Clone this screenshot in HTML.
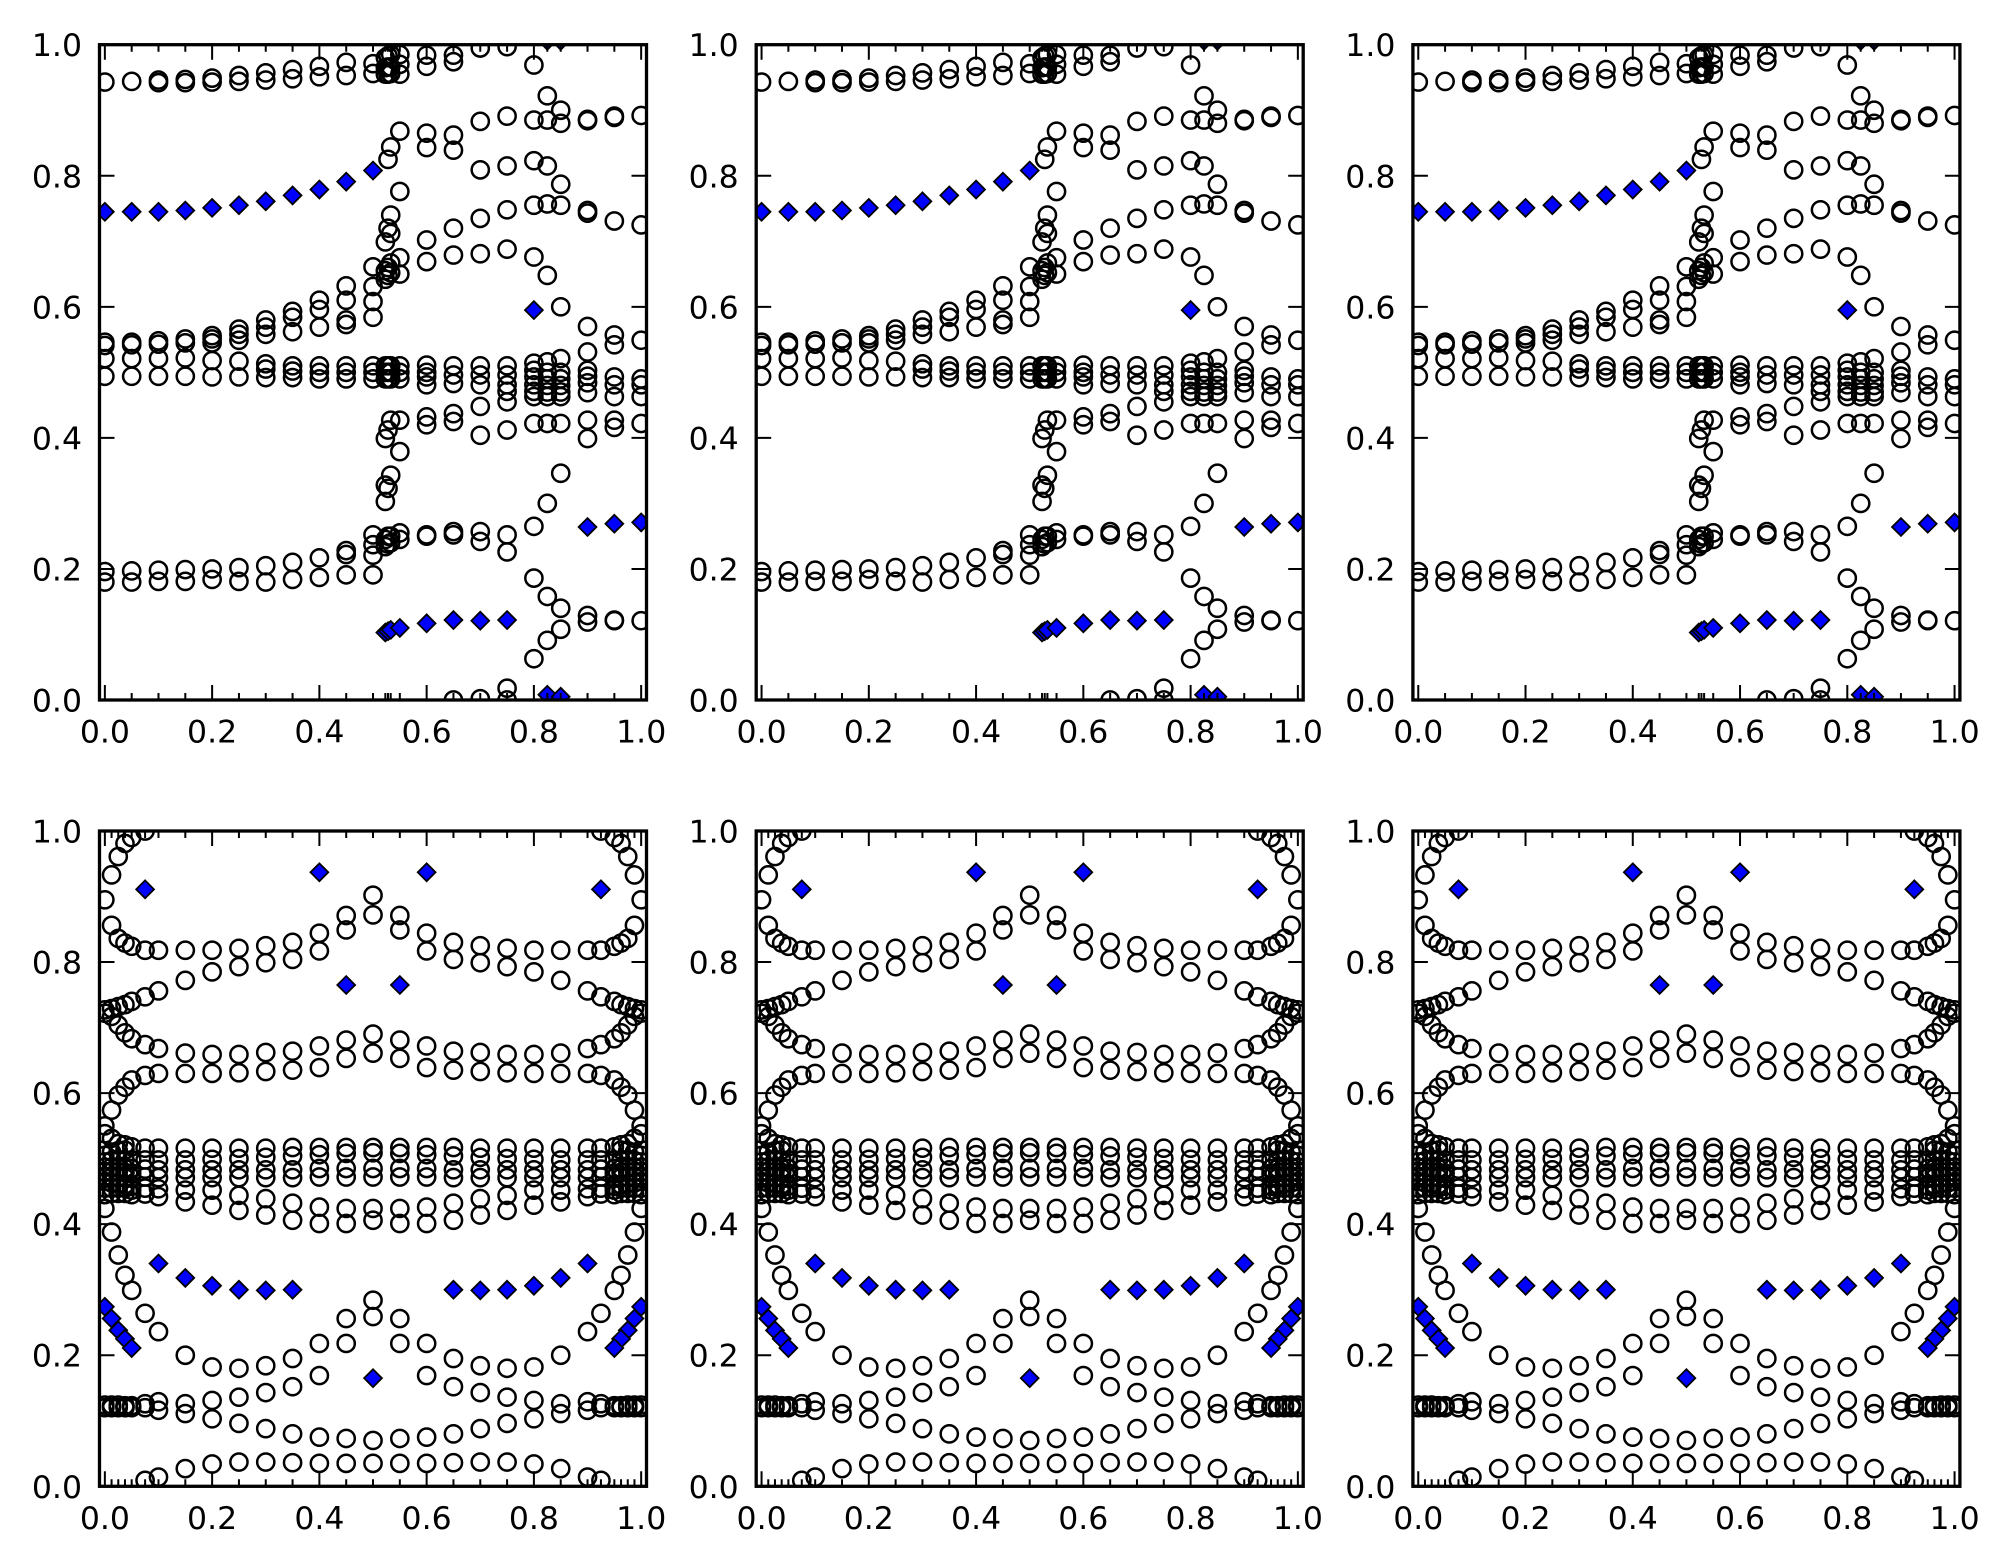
<!DOCTYPE html>
<html>
<head>
<meta charset="utf-8">
<style>
html,body{margin:0;padding:0;background:#fff;}
svg{display:block;}
text{font-family:"DejaVu Sans","Liberation Sans",sans-serif;font-size:31.5px;fill:#000;}
</style>
</head>
<body>
<svg width="2011" height="1565" viewBox="0 0 2011 1565" xmlns="http://www.w3.org/2000/svg">
<defs>
<clipPath id="cp"><rect x="0" y="0" width="547" height="655.3"/></clipPath>
<g id="o" transform="scale(0.00186463,-0.00152602)"><circle r="8.6" fill="none" stroke="#000" stroke-width="2.5"/></g>
<g id="d" transform="scale(0.00186463,-0.00152602)"><path d="M0 -8.9L8.9 0L0 8.9L-8.9 0Z" fill="#0000ff" stroke="#000" stroke-width="1.8"/></g>

<g id="axM" fill="none" stroke="#000">
<path stroke-width="2" d="M5.36 655.3v-15M5.36 0v15M112.62 655.3v-15M112.62 0v15M219.88 655.3v-15M219.88 0v15M327.14 655.3v-15M327.14 0v15M434.4 655.3v-15M434.4 0v15M541.66 655.3v-15M541.66 0v15M0 0h15M547 0h-15M0 131.06h15M547 131.06h-15M0 262.12h15M547 262.12h-15M0 393.18h15M547 393.18h-15M0 524.24h15M547 524.24h-15M0 655.3h15M547 655.3h-15"/>
<rect x="0" y="0" width="547" height="655.3" stroke-width="3.3"/>
</g>
<g id="axT" fill="none" stroke="#000">
<path stroke-width="2" d="M32.18 655.3v-7M32.18 0v7M58.99 655.3v-7M58.99 0v7M85.81 655.3v-7M85.81 0v7M139.44 655.3v-7M139.44 0v7M166.25 655.3v-7M166.25 0v7M193.07 655.3v-7M193.07 0v7M246.7 655.3v-7M246.7 0v7M273.51 655.3v-7M273.51 0v7M285.85 655.3v-7M285.85 0v7M288.53 655.3v-7M288.53 0v7M291.21 655.3v-7M291.21 0v7M300.33 655.3v-7M300.33 0v7M353.96 655.3v-7M353.96 0v7M380.77 655.3v-7M380.77 0v7M407.59 655.3v-7M407.59 0v7M447.81 655.3v-7M447.81 0v7M461.22 655.3v-7M461.22 0v7M488.03 655.3v-7M488.03 0v7M514.85 655.3v-7M514.85 0v7"/>
<use href="#axM"/>
</g>
<g id="axB" fill="none" stroke="#000">
<path stroke-width="2" d="M12.07 655.3v-7M12.07 0v7M18.77 655.3v-7M18.77 0v7M25.47 655.3v-7M25.47 0v7M32.18 655.3v-7M32.18 0v7M45.59 655.3v-7M45.59 0v7M58.99 655.3v-7M58.99 0v7M85.81 655.3v-7M85.81 0v7M139.44 655.3v-7M139.44 0v7M166.25 655.3v-7M166.25 0v7M193.07 655.3v-7M193.07 0v7M246.7 655.3v-7M246.7 0v7M273.51 655.3v-7M273.51 0v7M300.33 655.3v-7M300.33 0v7M353.96 655.3v-7M353.96 0v7M380.77 655.3v-7M380.77 0v7M407.59 655.3v-7M407.59 0v7M461.22 655.3v-7M461.22 0v7M488.03 655.3v-7M488.03 0v7M501.44 655.3v-7M501.44 0v7M514.85 655.3v-7M514.85 0v7M521.55 655.3v-7M521.55 0v7M528.25 655.3v-7M528.25 0v7M534.96 655.3v-7M534.96 0v7"/>
<use href="#axM"/>
</g>

<!-- TOP PANEL DATA (data coordinates) -->
<g id="tD">
<g transform="translate(0)"><use href="#o" y=".943"/><use href="#o" y=".546"/><use href="#o" y=".541"/><use href="#o" y=".521"/><use href="#o" y=".494"/><use href="#o" y=".196"/><use href="#o" y=".180"/></g>
<g transform="translate(.05)"><use href="#o" y=".944"/><use href="#o" y=".546"/><use href="#o" y=".542"/><use href="#o" y=".521"/><use href="#o" y=".494"/><use href="#o" y=".197"/><use href="#o" y=".180"/></g>
<g transform="translate(.1)"><use href="#o" y=".946"/><use href="#o" y=".942"/><use href="#o" y=".548"/><use href="#o" y=".543"/><use href="#o" y=".521"/><use href="#o" y=".494"/><use href="#o" y=".198"/><use href="#o" y=".181"/></g>
<g transform="translate(.15)"><use href="#o" y=".947"/><use href="#o" y=".942"/><use href="#o" y=".551"/><use href="#o" y=".545"/><use href="#o" y=".522"/><use href="#o" y=".494"/><use href="#o" y=".199"/><use href="#o" y=".181"/></g>
<g transform="translate(.2)"><use href="#o" y=".949"/><use href="#o" y=".943"/><use href="#o" y=".556"/><use href="#o" y=".551"/><use href="#o" y=".545"/><use href="#o" y=".518"/><use href="#o" y=".493"/><use href="#o" y=".200"/><use href="#o" y=".184"/></g>
<g transform="translate(.25)"><use href="#o" y=".953"/><use href="#o" y=".944"/><use href="#o" y=".566"/><use href="#o" y=".558"/><use href="#o" y=".549"/><use href="#o" y=".517"/><use href="#o" y=".493"/><use href="#o" y=".202"/><use href="#o" y=".181"/></g>
<g transform="translate(.3)"><use href="#o" y=".957"/><use href="#o" y=".946"/><use href="#o" y=".580"/><use href="#o" y=".569"/><use href="#o" y=".558"/><use href="#o" y=".513"/><use href="#o" y=".505"/><use href="#o" y=".492"/><use href="#o" y=".205"/><use href="#o" y=".180"/></g>
<g transform="translate(.35)"><use href="#o" y=".962"/><use href="#o" y=".948"/><use href="#o" y=".593"/><use href="#o" y=".584"/><use href="#o" y=".562"/><use href="#o" y=".510"/><use href="#o" y=".502"/><use href="#o" y=".492"/><use href="#o" y=".210"/><use href="#o" y=".184"/></g>
<g transform="translate(.4)"><use href="#o" y=".967"/><use href="#o" y=".951"/><use href="#o" y=".610"/><use href="#o" y=".596"/><use href="#o" y=".569"/><use href="#o" y=".510"/><use href="#o" y=".500"/><use href="#o" y=".490"/><use href="#o" y=".217"/><use href="#o" y=".187"/></g>
<g transform="translate(.45)"><use href="#o" y=".973"/><use href="#o" y=".953"/><use href="#o" y=".632"/><use href="#o" y=".610"/><use href="#o" y=".580"/><use href="#o" y=".573"/><use href="#o" y=".510"/><use href="#o" y=".500"/><use href="#o" y=".490"/><use href="#o" y=".228"/><use href="#o" y=".222"/><use href="#o" y=".191"/></g>
<g transform="translate(.5)"><use href="#o" y=".971"/><use href="#o" y=".956"/><use href="#o" y=".661"/><use href="#o" y=".631"/><use href="#o" y=".608"/><use href="#o" y=".584"/><use href="#o" y=".510"/><use href="#o" y=".500"/><use href="#o" y=".490"/><use href="#o" y=".252"/><use href="#o" y=".237"/><use href="#o" y=".221"/><use href="#o" y=".191"/></g>
<g transform="translate(.523)"><use href="#o" y=".980"/><use href="#o" y=".965"/><use href="#o" y=".955"/><use href="#o" y=".699"/><use href="#o" y=".655"/><use href="#o" y=".642"/><use href="#o" y=".510"/><use href="#o" y=".500"/><use href="#o" y=".490"/><use href="#o" y=".399"/><use href="#o" y=".328"/><use href="#o" y=".303"/><use href="#o" y=".245"/><use href="#o" y=".234"/></g>
<g transform="translate(.528)"><use href="#o" y=".983"/><use href="#o" y=".966"/><use href="#o" y=".955"/><use href="#o" y=".825"/><use href="#o" y=".720"/><use href="#o" y=".648"/><use href="#o" y=".660"/><use href="#o" y=".510"/><use href="#o" y=".500"/><use href="#o" y=".490"/><use href="#o" y=".412"/><use href="#o" y=".323"/><use href="#o" y=".250"/><use href="#o" y=".238"/></g>
<g transform="translate(.533)"><use href="#o" y=".985"/><use href="#o" y=".966"/><use href="#o" y=".956"/><use href="#o" y=".844"/><use href="#o" y=".740"/><use href="#o" y=".712"/><use href="#o" y=".652"/><use href="#o" y=".667"/><use href="#o" y=".510"/><use href="#o" y=".500"/><use href="#o" y=".490"/><use href="#o" y=".343"/><use href="#o" y=".427"/><use href="#o" y=".250"/><use href="#o" y=".240"/></g>
<g transform="translate(.55)"><use href="#o" y=".985"/><use href="#o" y=".970"/><use href="#o" y=".955"/><use href="#o" y=".868"/><use href="#o" y=".776"/><use href="#o" y=".675"/><use href="#o" y=".650"/><use href="#o" y=".510"/><use href="#o" y=".500"/><use href="#o" y=".490"/><use href="#o" y=".427"/><use href="#o" y=".379"/><use href="#o" y=".255"/><use href="#o" y=".245"/></g>
<g transform="translate(.6)"><use href="#o" y=".984"/><use href="#o" y=".967"/><use href="#o" y=".865"/><use href="#o" y=".843"/><use href="#o" y=".702"/><use href="#o" y=".669"/><use href="#o" y=".511"/><use href="#o" y=".500"/><use href="#o" y=".493"/><use href="#o" y=".481"/><use href="#o" y=".432"/><use href="#o" y=".420"/><use href="#o" y=".252"/><use href="#o" y=".250"/></g>
<g transform="translate(.65)"><use href="#o" y=".984"/><use href="#o" y=".974"/><use href="#o" y=".862"/><use href="#o" y=".839"/><use href="#o" y=".720"/><use href="#o" y=".679"/><use href="#o" y=".510"/><use href="#o" y=".496"/><use href="#o" y=".483"/><use href="#o" y=".437"/><use href="#o" y=".425"/><use href="#o" y=".257"/><use href="#o" y=".252"/><use href="#o" y="0"/></g>
<g transform="translate(.7)"><use href="#o" y=".995"/><use href="#o" y=".883"/><use href="#o" y=".809"/><use href="#o" y=".735"/><use href="#o" y=".681"/><use href="#o" y=".510"/><use href="#o" y=".496"/><use href="#o" y=".481"/><use href="#o" y=".448"/><use href="#o" y=".404"/><use href="#o" y=".257"/><use href="#o" y=".242"/><use href="#o" y=".002"/></g>
<g transform="translate(.75)"><use href="#o" y=".997"/><use href="#o" y=".891"/><use href="#o" y=".815"/><use href="#o" y=".748"/><use href="#o" y=".688"/><use href="#o" y=".510"/><use href="#o" y=".496"/><use href="#o" y=".481"/><use href="#o" y=".471"/><use href="#o" y=".455"/><use href="#o" y=".412"/><use href="#o" y=".252"/><use href="#o" y=".226"/><use href="#o" y=".018"/><use href="#o" y="0"/></g>
<g transform="translate(.8)"><use href="#o" y=".969"/><use href="#o" y=".885"/><use href="#o" y=".823"/><use href="#o" y=".755"/><use href="#o" y=".676"/><use href="#o" y=".514"/><use href="#o" y=".503"/><use href="#o" y=".493"/><use href="#o" y=".481"/><use href="#o" y=".471"/><use href="#o" y=".463"/><use href="#o" y=".422"/><use href="#o" y=".265"/><use href="#o" y=".186"/><use href="#o" y=".063"/></g>
<g transform="translate(.825)"><use href="#o" y=".922"/><use href="#o" y=".885"/><use href="#o" y=".815"/><use href="#o" y=".757"/><use href="#o" y=".648"/><use href="#o" y=".516"/><use href="#o" y=".500"/><use href="#o" y=".490"/><use href="#o" y=".480"/><use href="#o" y=".470"/><use href="#o" y=".463"/><use href="#o" y=".422"/><use href="#o" y=".300"/><use href="#o" y=".158"/><use href="#o" y=".091"/></g>
<g transform="translate(.85)"><use href="#o" y=".900"/><use href="#o" y=".880"/><use href="#o" y=".787"/><use href="#o" y=".755"/><use href="#o" y=".600"/><use href="#o" y=".521"/><use href="#o" y=".500"/><use href="#o" y=".490"/><use href="#o" y=".480"/><use href="#o" y=".470"/><use href="#o" y=".463"/><use href="#o" y=".422"/><use href="#o" y=".346"/><use href="#o" y=".140"/><use href="#o" y=".108"/></g>
<g transform="translate(.9)"><use href="#o" y=".886"/><use href="#o" y=".884"/><use href="#o" y=".747"/><use href="#o" y=".743"/><use href="#o" y=".570"/><use href="#o" y=".531"/><use href="#o" y=".503"/><use href="#o" y=".494"/><use href="#o" y=".484"/><use href="#o" y=".469"/><use href="#o" y=".427"/><use href="#o" y=".399"/><use href="#o" y=".129"/><use href="#o" y=".119"/></g>
<g transform="translate(.95)"><use href="#o" y=".891"/><use href="#o" y=".889"/><use href="#o" y=".731"/><use href="#o" y=".557"/><use href="#o" y=".542"/><use href="#o" y=".493"/><use href="#o" y=".481"/><use href="#o" y=".463"/><use href="#o" y=".427"/><use href="#o" y=".416"/><use href="#o" y=".122"/><use href="#o" y=".121"/></g>
<g transform="translate(1)"><use href="#o" y=".892"/><use href="#o" y=".725"/><use href="#o" y=".549"/><use href="#o" y=".490"/><use href="#o" y=".481"/><use href="#o" y=".463"/><use href="#o" y=".422"/><use href="#o" y=".121"/></g>
<!-- diamonds -->
<use href="#d" x="0" y=".745"/><use href="#d" x=".05" y=".745"/><use href="#d" x=".1" y=".745"/><use href="#d" x=".15" y=".747"/><use href="#d" x=".2" y=".751"/><use href="#d" x=".25" y=".755"/><use href="#d" x=".3" y=".761"/><use href="#d" x=".35" y=".770"/><use href="#d" x=".4" y=".779"/><use href="#d" x=".45" y=".791"/><use href="#d" x=".5" y=".808"/>
<use href="#d" x=".523" y=".103"/><use href="#d" x=".528" y=".105"/><use href="#d" x=".533" y=".107"/><use href="#d" x=".55" y=".110"/><use href="#d" x=".6" y=".117"/><use href="#d" x=".65" y=".122"/><use href="#d" x=".7" y=".121"/><use href="#d" x=".75" y=".122"/>
<use href="#d" x=".8" y=".595"/><use href="#d" x=".825" y=".008"/><use href="#d" x=".825" y="1.006"/><use href="#d" x=".85" y=".005"/><use href="#d" x=".85" y="1.006"/>
<use href="#d" x=".9" y=".264"/><use href="#d" x=".95" y=".269"/><use href="#d" x="1" y=".271"/>
</g>

<!-- BOTTOM PANEL DATA: left half (mirrored) -->
<g id="bHc">
<g transform="translate(0)"><use href="#o" y=".895"/><use href="#o" y=".727"/><use href="#o" y=".722"/><use href="#o" y=".550"/><use href="#o" y=".538"/><use href="#o" y=".505"/><use href="#o" y=".495"/><use href="#o" y=".487"/><use href="#o" y=".480"/><use href="#o" y=".473"/><use href="#o" y=".465"/><use href="#o" y=".455"/><use href="#o" y=".445"/><use href="#o" y=".424"/><use href="#o" y=".124"/><use href="#o" y=".120"/></g>
<g transform="translate(.0125)"><use href="#o" y=".933"/><use href="#o" y=".856"/><use href="#o" y=".729"/><use href="#o" y=".717"/><use href="#o" y=".574"/><use href="#o" y=".531"/><use href="#o" y=".510"/><use href="#o" y=".497"/><use href="#o" y=".487"/><use href="#o" y=".480"/><use href="#o" y=".472"/><use href="#o" y=".463"/><use href="#o" y=".455"/><use href="#o" y=".447"/><use href="#o" y=".388"/><use href="#o" y=".124"/><use href="#o" y=".120"/></g>
<g transform="translate(.025)"><use href="#o" y=".961"/><use href="#o" y=".836"/><use href="#o" y=".732"/><use href="#o" y=".704"/><use href="#o" y=".597"/><use href="#o" y=".523"/><use href="#o" y=".512"/><use href="#o" y=".498"/><use href="#o" y=".486"/><use href="#o" y=".480"/><use href="#o" y=".472"/><use href="#o" y=".462"/><use href="#o" y=".455"/><use href="#o" y=".447"/><use href="#o" y=".353"/><use href="#o" y=".124"/><use href="#o" y=".120"/></g>
<g transform="translate(.0375)"><use href="#o" y=".981"/><use href="#o" y=".829"/><use href="#o" y=".735"/><use href="#o" y=".692"/><use href="#o" y=".609"/><use href="#o" y=".521"/><use href="#o" y=".513"/><use href="#o" y=".498"/><use href="#o" y=".485"/><use href="#o" y=".479"/><use href="#o" y=".471"/><use href="#o" y=".460"/><use href="#o" y=".455"/><use href="#o" y=".447"/><use href="#o" y=".322"/><use href="#o" y=".123"/><use href="#o" y=".120"/></g>
<g transform="translate(.05)"><use href="#o" y=".990"/><use href="#o" y=".824"/><use href="#o" y=".740"/><use href="#o" y=".683"/><use href="#o" y=".620"/><use href="#o" y=".518"/><use href="#o" y=".498"/><use href="#o" y=".485"/><use href="#o" y=".478"/><use href="#o" y=".471"/><use href="#o" y=".458"/><use href="#o" y=".452"/><use href="#o" y=".445"/><use href="#o" y=".299"/><use href="#o" y=".123"/><use href="#o" y=".120"/></g>
<g transform="translate(.075)"><use href="#o" y="1"/><use href="#o" y=".818"/><use href="#o" y=".747"/><use href="#o" y=".674"/><use href="#o" y=".627"/><use href="#o" y=".516"/><use href="#o" y=".498"/><use href="#o" y=".484"/><use href="#o" y=".472"/><use href="#o" y=".455"/><use href="#o" y=".446"/><use href="#o" y=".264"/><use href="#o" y=".126"/><use href="#o" y=".120"/><use href="#o" y=".009"/></g>
<g transform="translate(.1)"><use href="#o" y=".818"/><use href="#o" y=".756"/><use href="#o" y=".668"/><use href="#o" y=".630"/><use href="#o" y=".516"/><use href="#o" y=".498"/><use href="#o" y=".483"/><use href="#o" y=".471"/><use href="#o" y=".454"/><use href="#o" y=".442"/><use href="#o" y=".236"/><use href="#o" y=".129"/><use href="#o" y=".116"/><use href="#o" y=".014"/></g>
<g transform="translate(.15)"><use href="#o" y=".818"/><use href="#o" y=".772"/><use href="#o" y=".661"/><use href="#o" y=".630"/><use href="#o" y=".516"/><use href="#o" y=".498"/><use href="#o" y=".483"/><use href="#o" y=".471"/><use href="#o" y=".452"/><use href="#o" y=".434"/><use href="#o" y=".200"/><use href="#o" y=".126"/><use href="#o" y=".111"/><use href="#o" y=".027"/></g>
<g transform="translate(.2)"><use href="#o" y=".818"/><use href="#o" y=".785"/><use href="#o" y=".659"/><use href="#o" y=".630"/><use href="#o" y=".516"/><use href="#o" y=".499"/><use href="#o" y=".483"/><use href="#o" y=".471"/><use href="#o" y=".452"/><use href="#o" y=".429"/><use href="#o" y=".182"/><use href="#o" y=".131"/><use href="#o" y=".103"/><use href="#o" y=".034"/></g>
<g transform="translate(.25)"><use href="#o" y=".821"/><use href="#o" y=".793"/><use href="#o" y=".659"/><use href="#o" y=".631"/><use href="#o" y=".516"/><use href="#o" y=".500"/><use href="#o" y=".483"/><use href="#o" y=".471"/><use href="#o" y=".444"/><use href="#o" y=".421"/><use href="#o" y=".180"/><use href="#o" y=".136"/><use href="#o" y=".096"/><use href="#o" y=".037"/></g>
<g transform="translate(.3)"><use href="#o" y=".825"/><use href="#o" y=".799"/><use href="#o" y=".662"/><use href="#o" y=".633"/><use href="#o" y=".516"/><use href="#o" y=".502"/><use href="#o" y=".483"/><use href="#o" y=".471"/><use href="#o" y=".439"/><use href="#o" y=".414"/><use href="#o" y=".184"/><use href="#o" y=".143"/><use href="#o" y=".088"/><use href="#o" y=".037"/></g>
<g transform="translate(.35)"><use href="#o" y=".830"/><use href="#o" y=".804"/><use href="#o" y=".664"/><use href="#o" y=".635"/><use href="#o" y=".517"/><use href="#o" y=".504"/><use href="#o" y=".483"/><use href="#o" y=".471"/><use href="#o" y=".432"/><use href="#o" y=".406"/><use href="#o" y=".195"/><use href="#o" y=".152"/><use href="#o" y=".080"/><use href="#o" y=".036"/></g>
<g transform="translate(.4)"><use href="#o" y=".844"/><use href="#o" y=".817"/><use href="#o" y=".672"/><use href="#o" y=".639"/><use href="#o" y=".517"/><use href="#o" y=".506"/><use href="#o" y=".485"/><use href="#o" y=".472"/><use href="#o" y=".426"/><use href="#o" y=".401"/><use href="#o" y=".218"/><use href="#o" y=".169"/><use href="#o" y=".075"/><use href="#o" y=".035"/></g>
<g transform="translate(.45)"><use href="#o" y=".871"/><use href="#o" y=".849"/><use href="#o" y=".681"/><use href="#o" y=".653"/><use href="#o" y=".517"/><use href="#o" y=".508"/><use href="#o" y=".485"/><use href="#o" y=".472"/><use href="#o" y=".424"/><use href="#o" y=".401"/><use href="#o" y=".256"/><use href="#o" y=".218"/><use href="#o" y=".073"/><use href="#o" y=".035"/></g>
</g>
<g id="bHd">
<use href="#d" x="0" y=".274"/><use href="#d" x=".0125" y=".256"/><use href="#d" x=".025" y=".238"/><use href="#d" x=".0375" y=".225"/><use href="#d" x=".05" y=".211"/>
<use href="#d" x=".075" y=".911"/><use href="#d" x=".1" y=".340"/><use href="#d" x=".15" y=".318"/><use href="#d" x=".2" y=".306"/><use href="#d" x=".25" y=".300"/><use href="#d" x=".3" y=".299"/><use href="#d" x=".35" y=".300"/><use href="#d" x=".4" y=".937"/><use href="#d" x=".45" y=".765"/>
</g>
<g id="bD">
<use href="#bHc"/>
<use href="#bHc" transform="matrix(-1 0 0 1 1 0)"/>
<g transform="translate(.5)"><use href="#o" y=".902"/><use href="#o" y=".872"/><use href="#o" y=".690"/><use href="#o" y=".661"/><use href="#o" y=".517"/><use href="#o" y=".509"/><use href="#o" y=".485"/><use href="#o" y=".472"/><use href="#o" y=".424"/><use href="#o" y=".406"/><use href="#o" y=".284"/><use href="#o" y=".259"/><use href="#o" y=".070"/><use href="#o" y=".035"/></g>
<use href="#bHd"/>
<use href="#bHd" transform="matrix(-1 0 0 1 1 0)"/>
<use href="#d" x=".5" y=".165"/>
</g>
</defs>

<!-- Row 1 -->
<g transform="translate(99.5 44.7)"><g clip-path="url(#cp)"><use href="#tD" transform="translate(5.363 655.3) scale(536.3 -655.3)"/></g><use href="#axT"/></g>
<g transform="translate(756.2 44.7)"><g clip-path="url(#cp)"><use href="#tD" transform="translate(5.363 655.3) scale(536.3 -655.3)"/></g><use href="#axT"/></g>
<g transform="translate(1412.9 44.7)"><g clip-path="url(#cp)"><use href="#tD" transform="translate(5.363 655.3) scale(536.3 -655.3)"/></g><use href="#axT"/></g>
<!-- Row 2 -->
<g transform="translate(99.5 831)"><g clip-path="url(#cp)"><use href="#bD" transform="translate(5.363 655.3) scale(536.3 -655.3)"/></g><use href="#axB"/></g>
<g transform="translate(756.2 831)"><g clip-path="url(#cp)"><use href="#bD" transform="translate(5.363 655.3) scale(536.3 -655.3)"/></g><use href="#axB"/></g>
<g transform="translate(1412.9 831)"><g clip-path="url(#cp)"><use href="#bD" transform="translate(5.363 655.3) scale(536.3 -655.3)"/></g><use href="#axB"/></g>

<!-- Y tick labels -->
<g text-anchor="end">
<text x="82" y="56.2">1.0</text><text x="82" y="187.3">0.8</text><text x="82" y="318.3">0.6</text><text x="82" y="449.4">0.4</text><text x="82" y="580.4">0.2</text><text x="82" y="711.5">0.0</text>
<text x="738.7" y="56.2">1.0</text><text x="738.7" y="187.3">0.8</text><text x="738.7" y="318.3">0.6</text><text x="738.7" y="449.4">0.4</text><text x="738.7" y="580.4">0.2</text><text x="738.7" y="711.5">0.0</text>
<text x="1395.4" y="56.2">1.0</text><text x="1395.4" y="187.3">0.8</text><text x="1395.4" y="318.3">0.6</text><text x="1395.4" y="449.4">0.4</text><text x="1395.4" y="580.4">0.2</text><text x="1395.4" y="711.5">0.0</text>
<text x="82" y="842.5">1.0</text><text x="82" y="973.6">0.8</text><text x="82" y="1104.6">0.6</text><text x="82" y="1235.7">0.4</text><text x="82" y="1366.7">0.2</text><text x="82" y="1497.8">0.0</text>
<text x="738.7" y="842.5">1.0</text><text x="738.7" y="973.6">0.8</text><text x="738.7" y="1104.6">0.6</text><text x="738.7" y="1235.7">0.4</text><text x="738.7" y="1366.7">0.2</text><text x="738.7" y="1497.8">0.0</text>
<text x="1395.4" y="842.5">1.0</text><text x="1395.4" y="973.6">0.8</text><text x="1395.4" y="1104.6">0.6</text><text x="1395.4" y="1235.7">0.4</text><text x="1395.4" y="1366.7">0.2</text><text x="1395.4" y="1497.8">0.0</text>
</g>
<!-- X tick labels -->
<g text-anchor="middle">
<text x="104.9" y="742.7">0.0</text><text x="212.1" y="742.7">0.2</text><text x="319.4" y="742.7">0.4</text><text x="426.6" y="742.7">0.6</text><text x="533.9" y="742.7">0.8</text><text x="641.2" y="742.7">1.0</text>
<text x="761.6" y="742.7">0.0</text><text x="868.8" y="742.7">0.2</text><text x="976.1" y="742.7">0.4</text><text x="1083.3" y="742.7">0.6</text><text x="1190.6" y="742.7">0.8</text><text x="1297.9" y="742.7">1.0</text>
<text x="1418.3" y="742.7">0.0</text><text x="1525.5" y="742.7">0.2</text><text x="1632.8" y="742.7">0.4</text><text x="1740" y="742.7">0.6</text><text x="1847.3" y="742.7">0.8</text><text x="1954.6" y="742.7">1.0</text>
<text x="104.9" y="1529">0.0</text><text x="212.1" y="1529">0.2</text><text x="319.4" y="1529">0.4</text><text x="426.6" y="1529">0.6</text><text x="533.9" y="1529">0.8</text><text x="641.2" y="1529">1.0</text>
<text x="761.6" y="1529">0.0</text><text x="868.8" y="1529">0.2</text><text x="976.1" y="1529">0.4</text><text x="1083.3" y="1529">0.6</text><text x="1190.6" y="1529">0.8</text><text x="1297.9" y="1529">1.0</text>
<text x="1418.3" y="1529">0.0</text><text x="1525.5" y="1529">0.2</text><text x="1632.8" y="1529">0.4</text><text x="1740" y="1529">0.6</text><text x="1847.3" y="1529">0.8</text><text x="1954.6" y="1529">1.0</text>
</g>
</svg>
</body>
</html>
